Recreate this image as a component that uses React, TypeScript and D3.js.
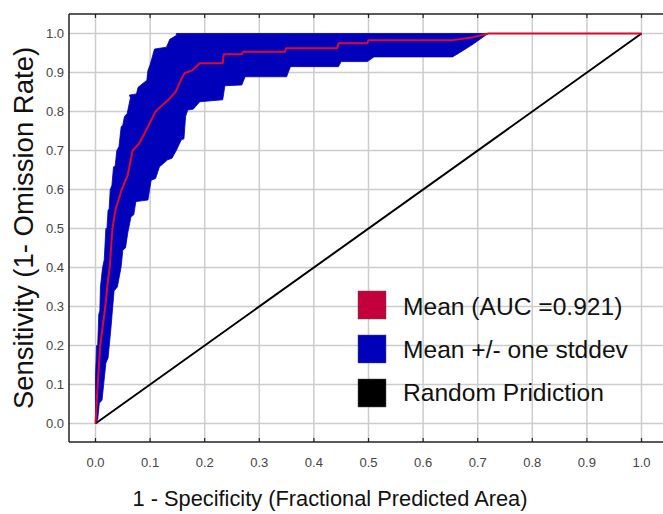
import React from "react";
import * as d3 from "d3";

const xTicks = [0, 0.1, 0.2, 0.3, 0.4, 0.5, 0.6, 0.7, 0.8, 0.9, 1.0];
const yTicks = [0, 0.1, 0.2, 0.3, 0.4, 0.5, 0.6, 0.7, 0.8, 0.9, 1.0];

// mean ROC curve [fpr, tpr]
const meanCurve: [number, number][] = [
  [0, 0], [0.004, 0.1], [0.0086, 0.2], [0.018, 0.3], [0.023, 0.37], [0.026, 0.4],
  [0.031, 0.5], [0.037, 0.55], [0.048, 0.6], [0.059, 0.637], [0.068, 0.7],
  [0.08, 0.718], [0.092, 0.75], [0.11, 0.8], [0.123, 0.817], [0.135, 0.832],
  [0.147, 0.851], [0.156, 0.88], [0.163, 0.898], [0.178, 0.906], [0.184, 0.915],
  [0.191, 0.924], [0.233, 0.924], [0.235, 0.947], [0.268, 0.947], [0.27, 0.953],
  [0.347, 0.953], [0.349, 0.962], [0.443, 0.962], [0.445, 0.975], [0.498, 0.975],
  [0.5, 0.983], [0.654, 0.983], [0.69, 0.99], [0.72, 1.0], [1.0, 1.0],
];

// upper (mean + sd) boundary
const upperCurve: [number, number][] = [
  [0, 0], [0, 0.12], [0.002, 0.2], [0.004, 0.2], [0.006, 0.28], [0.008, 0.29],
  [0.009, 0.35], [0.013, 0.4], [0.016, 0.42], [0.019, 0.5], [0.021, 0.5],
  [0.023, 0.547], [0.025, 0.55], [0.027, 0.6], [0.03, 0.61], [0.033, 0.658],
  [0.036, 0.66], [0.039, 0.7], [0.043, 0.71], [0.047, 0.761], [0.05, 0.765],
  [0.053, 0.787], [0.058, 0.795], [0.064, 0.835], [0.062, 0.842], [0.075, 0.845],
  [0.078, 0.862], [0.085, 0.87], [0.094, 0.88], [0.096, 0.905], [0.1, 0.92],
  [0.104, 0.94], [0.108, 0.96], [0.13, 0.965], [0.136, 0.985], [0.148, 0.995],
  [0.148, 1.0], [0.72, 1.0], [1.0, 1.0],
];

// lower (mean - sd) boundary
const lowerCurve: [number, number][] = [
  [0, 0], [0.004, 0.01], [0.007, 0.052], [0.012, 0.06], [0.019, 0.155], [0.023, 0.168],
  [0.028, 0.24], [0.034, 0.34], [0.04, 0.35], [0.047, 0.402], [0.05, 0.445], [0.055, 0.45],
  [0.059, 0.488], [0.065, 0.53], [0.07, 0.535], [0.074, 0.569], [0.096, 0.573],
  [0.102, 0.624], [0.11, 0.628], [0.117, 0.658], [0.132, 0.676], [0.14, 0.68],
  [0.148, 0.7], [0.157, 0.727], [0.162, 0.73], [0.165, 0.787], [0.169, 0.804],
  [0.179, 0.806], [0.191, 0.825], [0.233, 0.83], [0.237, 0.866], [0.268, 0.868],
  [0.274, 0.889], [0.35, 0.889], [0.357, 0.915], [0.445, 0.915], [0.45, 0.928],
  [0.498, 0.928], [0.51, 0.94], [0.654, 0.94], [0.675, 0.958], [0.694, 0.975],
  [0.715, 0.996], [0.72, 1.0], [1.0, 1.0],
];

const randomLine: [number, number][] = [[0, 0], [1, 1]];

const legendLabels = ["Mean (AUC =0.921)", "Mean +/- one stddev", "Random Pridiction"];
const legendColors = ["#c4003c", "#0000bb", "#000000"];

export default function App() {
  const W = 663, H = 514;
  const left = 69, top = 14, bottom = 442;
  const x = d3.scaleLinear().domain([0, 1]).range([95.5, 641.5]);
  const y = d3.scaleLinear().domain([0, 1]).range([423.5, 33.5]);
  const line = d3.line<[number, number]>().x((d) => x(d[0])).y((d) => y(d[1]));
  const band = line([...upperCurve, ...lowerCurve.slice().reverse()]) + "Z";
  const font = "'Liberation Sans', Arial, sans-serif";

  return (
    <svg width={W} height={H} style={{ position: "absolute", left: 0, top: 0, background: "#fff" }}>
      {/* grid */}
      {xTicks.map((t) => (
        <line key={"gx" + t} x1={x(t)} x2={x(t)} y1={top} y2={bottom} stroke="#cccccc" strokeWidth={1.5} />
      ))}
      {yTicks.map((t) => (
        <line key={"gy" + t} x1={left} x2={W} y1={y(t)} y2={y(t)} stroke="#cccccc" strokeWidth={1.5} />
      ))}
      {/* frame */}
      <line x1={left} x2={W} y1={top} y2={top} stroke="#222" strokeWidth={1.5} />
      <line x1={left} x2={W} y1={bottom} y2={bottom} stroke="#222" strokeWidth={1.5} />
      <line x1={left} x2={left} y1={top} y2={bottom} stroke="#222" strokeWidth={1.5} />
      {xTicks.map((t) => (
        <g key={"tk" + t}>
          <line x1={x(t)} x2={x(t)} y1={top} y2={top + 4} stroke="#222" strokeWidth={1.2} />
          <line x1={x(t)} x2={x(t)} y1={bottom} y2={bottom - 4} stroke="#222" strokeWidth={1.2} />
        </g>
      ))}
      {/* band */}
      <path d={band} fill="#0000bb" stroke="#0000bb" strokeWidth={0.8} />
      {/* random */}
      <path d={line(randomLine) || ""} fill="none" stroke="#000" strokeWidth={2} />
      {/* mean */}
      <path d={line(meanCurve) || ""} fill="none" stroke="#dd0a2e" strokeWidth={2} strokeLinejoin="round" />
      {/* tick labels */}
      {xTicks.map((t) => (
        <text key={"xl" + t} x={x(t)} y={467} textAnchor="middle" fontFamily={font} fontSize={13} fill="#444">
          {t.toFixed(1)}
        </text>
      ))}
      {yTicks.map((t) => (
        <text key={"yl" + t} x={64} y={y(t) + 4.7} textAnchor="end" fontFamily={font} fontSize={13} fill="#444">
          {t.toFixed(1)}
        </text>
      ))}
      {/* axis titles */}
      <text x={330} y={506} textAnchor="middle" fontFamily={font} fontSize={21.8} fill="#111">
        1 - Specificity (Fractional Predicted Area)
      </text>
      <text transform="translate(33,228) rotate(-90)" textAnchor="middle" fontFamily={font} fontSize={27.5} fill="#111">
        Sensitivity (1- Omission Rate)
      </text>
      {/* legend */}
      {legendLabels.map((l, i) => (
        <g key={"lg" + i}>
          <rect x={358} y={291 + i * 44} width={28} height={28} fill={legendColors[i]} stroke="#555" strokeWidth={0.5} />
          <text x={403} y={315 + i * 43} fontFamily={font} fontSize={24.6} fill="#111">
            {l}
          </text>
        </g>
      ))}
    </svg>
  );
}
